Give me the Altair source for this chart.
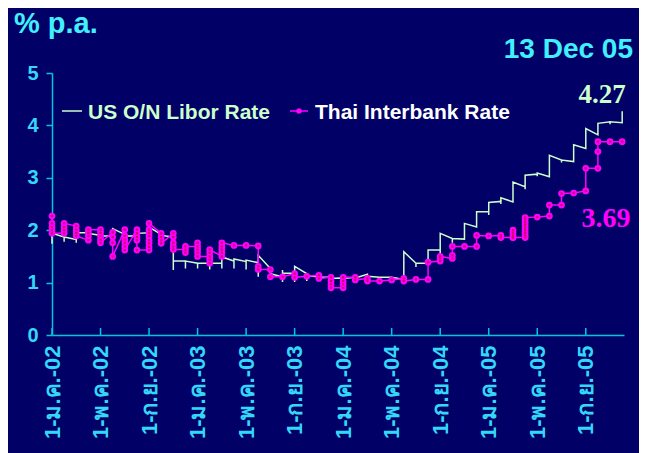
import json
import altair as alt
import pandas as pd

# ---------------- data ----------------
# one list per month (Jan 2002 .. Dec 2005); several values in a month are drawn
# at the same x position, joined in order (Excel-style monthly date axis)
us_libor = [
    [1.94, 1.74, 1.94], [1.87, 1.78, 1.87], [1.82, 1.76, 1.95], [1.95, 1.78, 1.94],
    [1.90, 1.89], [1.89, 2.03], [1.92, 1.89], [1.89, 1.94],
    [1.95, 2.06], [1.92, 1.90], [1.87, 1.24, 1.41], [1.41, 1.27, 1.41],
    [1.37, 1.27, 1.37], [1.37, 1.25, 1.37], [1.37, 1.27, 1.49], [1.41, 1.27, 1.45],
    [1.40, 1.25, 1.43], [1.38, 1.11, 1.52], [1.27, 1.05, 1.17], [1.11, 1.01, 1.24, 1.18],
    [1.18, 1.01, 1.31], [1.17, 1.03, 1.13], [1.11, 1.10], [1.10, 1.08],
    [1.09, 1.08], [1.10, 1.09], [1.16, 1.12], [1.10],
    [1.10], [1.06, 1.59], [1.37, 1.30, 1.37], [1.37, 1.62],
    [1.62, 1.50, 1.94], [1.84, 1.76, 1.84], [1.83, 2.13], [2.06, 2.35],
    [2.35, 2.29, 2.53], [2.55, 2.50, 2.62], [2.54, 2.92], [2.83, 2.78, 3.05],
    [3.07, 3.03, 3.09], [3.02, 3.43], [3.34, 3.29, 3.34], [3.31, 3.63],
    [3.56, 3.94], [3.82, 4.04], [4.07, 4.02, 4.07], [4.05, 4.27],
]
thai_rate = [
    [2.27, 2.13, 2.06, 2.00, 1.94], [1.94, 2.00, 2.06, 2.13], [2.08, 2.01, 1.95, 1.89],
    [1.81, 1.89, 1.95, 2.01], [2.01, 1.95, 1.89, 1.82, 1.76], [1.96, 1.87, 1.76, 1.50],
    [2.01, 1.89, 1.82, 1.76, 1.69, 1.62], [2.01, 1.94, 1.87, 1.81, 1.62],
    [1.62, 1.68, 1.75, 1.81, 1.89, 1.95, 2.01, 2.13], [1.94, 1.87, 1.81, 1.75],
    [1.94, 1.87, 1.76, 1.69, 1.63], [1.63, 1.57, 1.69], [1.69, 1.76, 1.63, 1.57, 1.50],
    [1.50, 1.44, 1.37, 1.57, 1.63], [1.50, 1.57, 1.63, 1.69, 1.76], [1.71],
    [1.71], [1.70, 1.31, 1.25], [1.25, 1.11], [1.11],
    [1.17, 1.10], [1.12], [1.14, 1.08], [1.10, 1.03, 0.97, 0.90],
    [0.90, 0.97, 1.03, 1.10], [1.10, 1.05], [1.08, 1.03], [1.03],
    [1.05], [1.08, 1.03], [1.06], [1.06, 1.39],
    [1.41, 1.46, 1.50], [1.46, 1.52, 1.69], [1.69], [1.69, 1.90],
    [1.89], [1.90, 1.86], [1.86, 1.90, 1.95, 2.00, 1.86],
    [1.86, 1.90, 1.95, 2.00, 2.05, 2.10, 2.15, 2.20, 2.24],
    [2.25], [2.27, 2.48], [2.48, 2.70], [2.71],
    [2.75, 3.18], [3.18, 3.50, 3.69], [3.69], [3.69],
]
series_names = ["US O/N Libor Rate", "Thai Interbank Rate"]
tick_months = [0, 4, 8, 12, 16, 20, 24, 28, 32, 36, 40, 44]
tick_labels = ["1-ม.ค.-02", "1-พ.ค.-02", "1-ก.ย.-02", "1-ม.ค.-03", "1-พ.ค.-03", "1-ก.ย.-03",
               "1-ม.ค.-04", "1-พ.ค.-04", "1-ก.ย.-04", "1-ม.ค.-05", "1-พ.ค.-05", "1-ก.ย.-05"]
y_ticks = [0, 1, 2, 3, 4, 5]
unit_title = "% p.a."
date_title = "13 Dec 05"
us_last = "4.27"
thai_last = "3.69"

# ---------------- styling ----------------
W, H = 572, 262
BG = "#000066"
AXIS = "#00c8dc"
LABEL = "#33d8f8"
TITLE = "#40f0ff"
US_C = "#ccffcc"
TH_C = "#ff00ff"
SANS = "Liberation Sans"
SERIF = "Liberation Serif"

rows = []
for name, series in zip(series_names, [us_libor, thai_rate]):
    for m, vals in enumerate(series):
        for v in vals:
            rows.append({"month": m, "seq": len(rows), "value": v, "series": name})
df = pd.DataFrame(rows)
us_df = df[df.series == series_names[0]]
th_df = df[df.series == series_names[1]]

label_expr = json.dumps(tick_labels, ensure_ascii=False) + "[round(datum.value / 4)]"

x_enc = alt.X(
    "month:Q",
    scale=alt.Scale(domain=[0, 47.15], nice=False, zero=False),
    axis=alt.Axis(values=tick_months, labelExpr=label_expr, labelAngle=270,
                  labelAlign="right", labelBaseline="middle", labelPadding=10,
                  ticks=False, grid=False, domainColor=AXIS, domainWidth=1.5,
                  labelColor=LABEL, labelFont=SANS, labelFontSize=22,
                  labelFontWeight="bold", labelOverlap=False, labelBound=False,
                  title=None),
)
y_enc = alt.Y(
    "value:Q",
    scale=alt.Scale(domain=[0, 5], nice=False, zero=True),
    axis=alt.Axis(values=y_ticks, tickSize=6, tickColor=AXIS, tickWidth=1.5,
                  domainColor=AXIS, domainWidth=1.5, grid=False, labelPadding=8,
                  labelColor=LABEL, labelFont=SANS, labelFontSize=20,
                  labelFontWeight="bold", title=None),
)

us_line = alt.Chart(us_df).mark_line(color=US_C, strokeWidth=1.5).encode(
    x=x_enc, y=y_enc, order=alt.Order("seq:Q"))
th_line = alt.Chart(th_df).mark_line(color=TH_C, strokeWidth=1.5).encode(
    x="month:Q", y="value:Q", order=alt.Order("seq:Q"))
th_pts = alt.Chart(th_df).mark_point(filled=True, color=TH_C, size=45, opacity=1).encode(
    x="month:Q", y="value:Q")
th_ctr = alt.Chart(th_df).mark_point(filled=True, color="#d0006a", size=5, opacity=1,
                                    shape="square").encode(x="month:Q", y="value:Q")

ticks = alt.Chart(pd.DataFrame({"month": tick_months})).mark_rule(
    color=AXIS, strokeWidth=1.5).encode(x="month:Q", y=alt.value(H), y2=alt.value(H - 7))

one = pd.DataFrame({"a": [0]})
leg_us_line = alt.Chart(one).mark_rule(color=US_C, strokeWidth=1.5).encode(
    x=alt.value(10), x2=alt.value(30), y=alt.value(38))
leg_th_line = alt.Chart(one).mark_rule(color=TH_C, strokeWidth=1.5).encode(
    x=alt.value(238), x2=alt.value(256), y=alt.value(38))
leg_th_pt = alt.Chart(one).mark_point(filled=True, color=TH_C, size=30, opacity=1).encode(
    x=alt.value(247), y=alt.value(38))


def label(text, x, y, color, font, size, align="left"):
    return alt.Chart(pd.DataFrame({"t": [text]})).mark_text(
        color=color, font=font, fontSize=size, fontWeight="bold",
        align=align, baseline="alphabetic").encode(
        text="t:N", x=alt.value(x), y=alt.value(y))


texts = [
    label(series_names[0], 36, 46, US_C, SANS, 21),
    label(series_names[1], 263, 46, "#ffffff", SANS, 21),
    label(unit_title, -38, -40, TITLE, SANS, 29),
    label(date_title, 581, -15, TITLE, SANS, 28, align="right"),
    label(us_last, 550, 30, US_C, SERIF, 27, align="center"),
    label(thai_last, 554, 154, TH_C, SERIF, 28, align="center"),
]

chart = alt.layer(
    us_line, th_line, th_pts, th_ctr, ticks,
    leg_us_line, leg_th_line, leg_th_pt, *texts
).properties(
    width=W, height=H,
    autosize=alt.AutoSizeParams(type="none"),
    padding={"left": 44, "top": 65, "right": 15, "bottom": 118},
    background=BG,
).configure_view(stroke=None)

chart.save("out.html", embed_options={"renderer": "svg", "actions": False})
